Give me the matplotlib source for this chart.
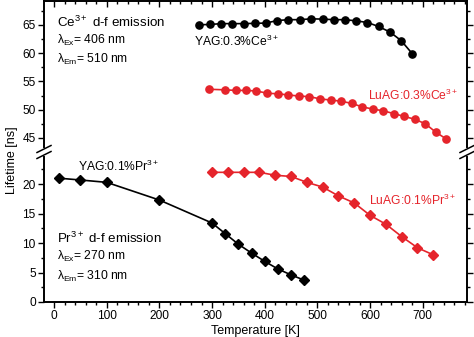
import matplotlib
matplotlib.use("Agg")
import matplotlib.pyplot as plt
from matplotlib.lines import Line2D
from matplotlib.ticker import MultipleLocator

plt.rcParams['font.family'] = ['Liberation Sans', 'DejaVu Sans']
plt.rcParams['mathtext.fontset'] = 'custom'
plt.rcParams['mathtext.rm'] = 'Liberation Sans'
plt.rcParams['mathtext.it'] = 'Liberation Sans'

# YAG:0.3%Ce (black circles, upper segment)
yag_ce_t = [275, 296, 317, 338, 360, 381, 402, 424, 445, 467,
            488, 510, 531, 552, 573, 595, 616, 638, 659, 680]
yag_ce_tau = [65.0, 65.05, 65.2, 65.2, 65.2, 65.25, 65.3, 65.75, 65.9, 65.9,
              66.05, 66.0, 65.9, 65.9, 65.7, 65.4, 64.7, 63.7, 62.2, 59.9]

# LuAG:0.3%Ce (red circles, upper segment)
luag_ce_t = [295, 325, 345, 364, 384, 405, 425, 445, 465, 485, 505, 525,
             545, 565, 585, 605, 625, 645, 665, 685, 705, 725, 745]
luag_ce_tau = [53.6, 53.5, 53.4, 53.4, 53.3, 52.9, 52.8, 52.6, 52.4, 52.3, 51.9, 51.7,
               51.5, 51.1, 50.5, 50.1, 49.8, 49.3, 48.8, 48.3, 47.5, 46.0, 44.8]

# YAG:0.1%Pr (black diamonds, lower segment)
yag_pr_t = [10, 50, 100, 200, 300, 325, 350, 375, 400, 425, 450, 475]
yag_pr_tau = [21.0, 20.7, 20.3, 17.3, 13.4, 11.6, 9.8, 8.3, 6.9, 5.6, 4.6, 3.7]

# LuAG:0.1%Pr (red diamonds, lower segment)
luag_pr_t = [300, 330, 360, 390, 420, 450, 480, 510, 540, 570, 600, 630, 660, 690, 720]
luag_pr_tau = [22.0, 22.0, 22.0, 22.0, 21.5, 21.3, 20.3, 19.5, 18.0, 16.8, 14.7, 13.2, 11.1, 9.2, 8.0]

red = '#e5242b'
W, H = 474, 337
fig = plt.figure(figsize=(W / 100, H / 100), dpi=100)

left, right = 44 / W, 467 / W
ax_top = fig.add_axes([left, (H - 147) / H, right - left, 146 / H])
ax_bot = fig.add_axes([left, (H - 302) / H, right - left, 145 / H])

ax_top.plot(yag_ce_t, yag_ce_tau, '-o', color='black', ms=5.2, lw=1.2)
ax_top.plot(luag_ce_t, luag_ce_tau, '-o', color=red, ms=5.2, lw=1.2)
ax_bot.plot(yag_pr_t, yag_pr_tau, '-D', color='black', ms=4.6, lw=1.2)
ax_bot.plot(luag_pr_t, luag_pr_tau, '-D', color=red, ms=4.6, lw=1.2)

for ax in (ax_top, ax_bot):
    ax.set_xlim(-19, 784)
    ax.xaxis.set_major_locator(MultipleLocator(100))
    ax.xaxis.set_minor_locator(MultipleLocator(20))
    ax.yaxis.set_major_locator(MultipleLocator(5))
    ax.yaxis.set_minor_locator(MultipleLocator(2.5))
    for s in ax.spines.values():
        s.set_linewidth(1.4)
    ax.tick_params(which='both', labelsize=8.6, width=1.0, pad=2)
    ax.tick_params(which='major', length=4)
    ax.tick_params(which='minor', length=2.5)

ax_top.set_ylim(43.4, 69.2)
ax_bot.set_ylim(0, 24.6)

ax_top.spines['bottom'].set_visible(False)
ax_bot.spines['top'].set_visible(False)
ax_top.tick_params(axis='x', which='both', bottom=False, labelbottom=False,
                   top=True, direction='in')
ax_top.tick_params(axis='y', which='both', left=True, right=True, direction='out')
ax_bot.tick_params(axis='x', which='both', top=False, bottom=True, direction='out')
ax_bot.tick_params(axis='y', which='both', left=True, right=True, direction='out')

# break marks on both side spines
for xc in (44, 467):
    for yc in (149, 155):
        x0, x1 = (xc - 7) / W, (xc + 7) / W
        y0, y1 = (H - yc - 3.5) / H, (H - yc + 3.5) / H
        fig.add_artist(Line2D([x0, x1], [y0, y1], color='black', lw=1.1))

fs = 8.7
ax_top.text(5, 65.5, r'Ce$^{3+}$ d-f emission', fontsize=9.6, va='center')
ax_top.text(5, 62.3, r'$\lambda_{\rm Ex}$= 406 nm', fontsize=fs, va='center')
ax_top.text(5, 58.8, r'$\lambda_{\rm Em}$= 510 nm', fontsize=fs, va='center')
ax_top.text(265, 62.0, r'YAG:0.3%Ce$^{3+}$', fontsize=fs, va='center')
ax_top.text(768, 52.6, r'LuAG:0.3%Ce$^{3+}$', fontsize=fs, va='center',
            ha='right', color=red)

ax_bot.text(45, 23.0, r'YAG:0.1%Pr$^{3+}$', fontsize=fs, va='center')
ax_bot.text(598, 17.3, r'LuAG:0.1%Pr$^{3+}$', fontsize=fs, va='center', color=red)
ax_bot.text(5, 10.8, r'Pr$^{3+}$ d-f emission', fontsize=9.6, va='center')
ax_bot.text(5, 7.8, r'$\lambda_{\rm Ex}$= 270 nm', fontsize=fs, va='center')
ax_bot.text(5, 4.4, r'$\lambda_{\rm Em}$= 310 nm', fontsize=fs, va='center')

ax_bot.set_xlabel('Temperature [K]', fontsize=9, labelpad=2)
fig.text(12 / W, (H - 160) / H, 'Lifetime [ns]', rotation=90, fontsize=9,
         va='center', ha='center')

fig.savefig('out.png', dpi=100)
